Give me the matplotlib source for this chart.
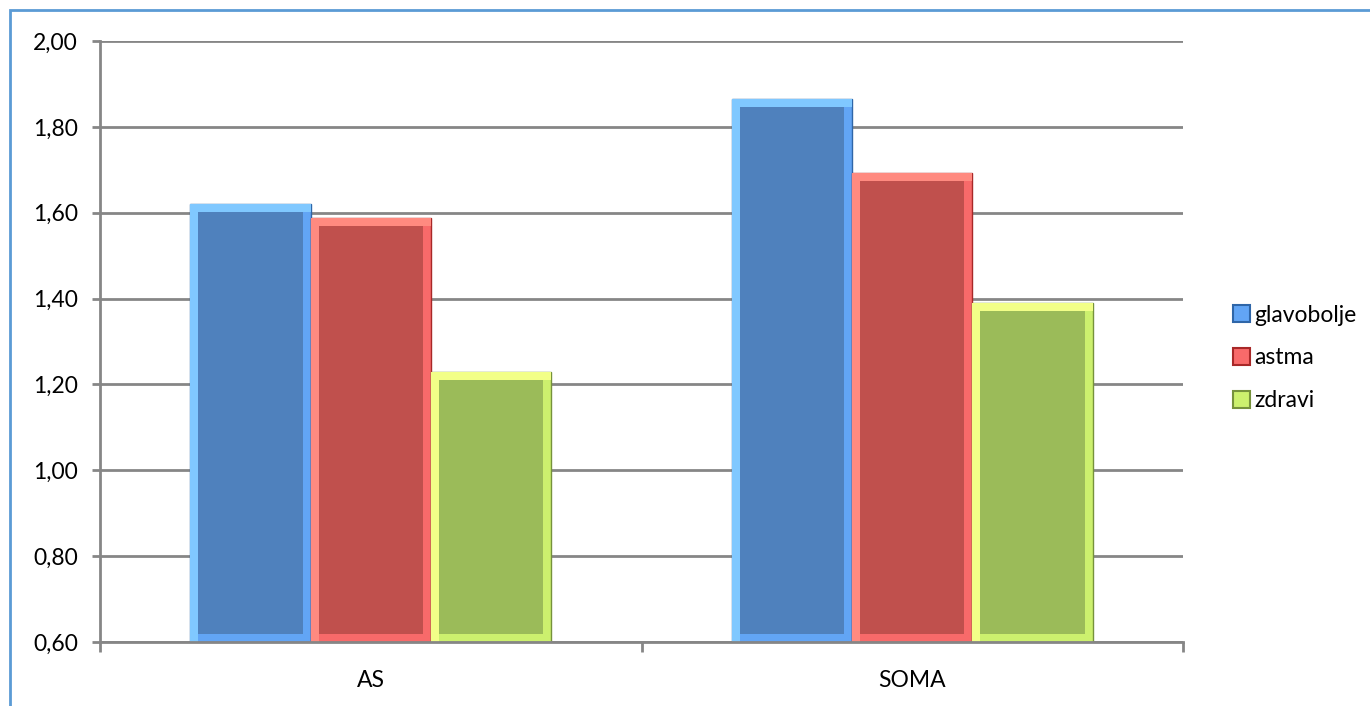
import numpy as np
from matplotlib import pyplot as plt
from matplotlib.patches import Patch, Rectangle

categories = ["AS", "SOMA"]
series = ["glavobolje", "astma", "zdravi"]
glavobolje = [1.62, 1.865]
astma = [1.588, 1.692]
zdravi = [1.229, 1.390]
yticks = [0.60, 0.80, 1.00, 1.20, 1.40, 1.60, 1.80, 2.00]

values = [glavobolje, astma, zdravi]
fills = ["#4F81BD", "#C0504D", "#9BBB59"]
bevels = ["#62A5F5", "#F86A6A", "#CCF06E"]
bevels_lt = ["#80C8FF", "#FF8A80", "#F2FF88"]
edges = ["#2F66A8", "#A82828", "#76923C"]

plt.rcParams['font.family'] = ['Lato', 'DejaVu Sans']

fig = plt.figure(figsize=(13.7, 7.06), dpi=100)
ax = fig.add_axes([100/1370, 64/706, 1083/1370, 601/706])
ax.set_xlim(0, 2)
ax.set_ylim(0.6, 2.0)

ymin = 0.6
w = 1.0/4.5
# bevel size in data units (about 8 px)
dx = 8 * 2/1083
dy = 8 * 1.4/601

ax.set_axisbelow(True)
ax.yaxis.grid(True, color="#868686", linewidth=2)
for i in range(len(series)):
    for j in range(len(categories)):
        x0 = j + 0.5 + (i - 1.5)*w
        v = values[i][j]
        ax.bar(x0, v - ymin, bottom=ymin, width=w, align="edge",
               color=bevels[i], edgecolor=edges[i], linewidth=1, zorder=2)
        ax.add_patch(Rectangle((x0, ymin), dx, v - ymin, color=bevels_lt[i], zorder=2.1, lw=0))
        ax.add_patch(Rectangle((x0, v - dy), w, dy, color=bevels_lt[i], zorder=2.1, lw=0))
        ax.add_patch(Rectangle((x0 + dx, ymin + dy), w - 2*dx, v - ymin - 2*dy,
                               color=fills[i], zorder=2.2, lw=0))

ax.set_yticks(yticks)
ax.set_yticklabels([("%.2f" % t).replace(".", ",") for t in yticks])
ax.set_xticks([0, 1, 2])
ax.set_xticks([0.5, 1.5], minor=True)
ax.set_xticklabels([])
ax.set_xticklabels(categories, minor=True)
ax.tick_params(axis="x", which="minor", length=0, pad=20, labelsize=16.5)
ax.tick_params(axis="x", which="major", length=7, width=2, color="#868686")
ax.tick_params(axis="y", length=6, width=2, color="#868686", labelsize=16.5, pad=10)
for s in ["top", "right"]:
    ax.spines[s].set_visible(False)
for s in ["left", "bottom"]:
    ax.spines[s].set_color("#868686")
    ax.spines[s].set_linewidth(2)

handles = [Patch(facecolor=bevels[i], edgecolor=edges[i], linewidth=1.5) for i in range(3)]
fig.legend(handles, series, loc="center left", bbox_to_anchor=(1212/1370, 1 - 358/706),
           frameon=False, fontsize=16.5, handlelength=0.75, handleheight=0.75,
           handletextpad=0.2, labelspacing=0.95)

# outer chart border
fig.patches.append(Rectangle((10/1370, -0.1), 1.2, 1 - 10/706 + 0.1, transform=fig.transFigure,
                             fill=False, edgecolor="#5B9BD5", linewidth=2))

fig.savefig("out.png", dpi=100)
